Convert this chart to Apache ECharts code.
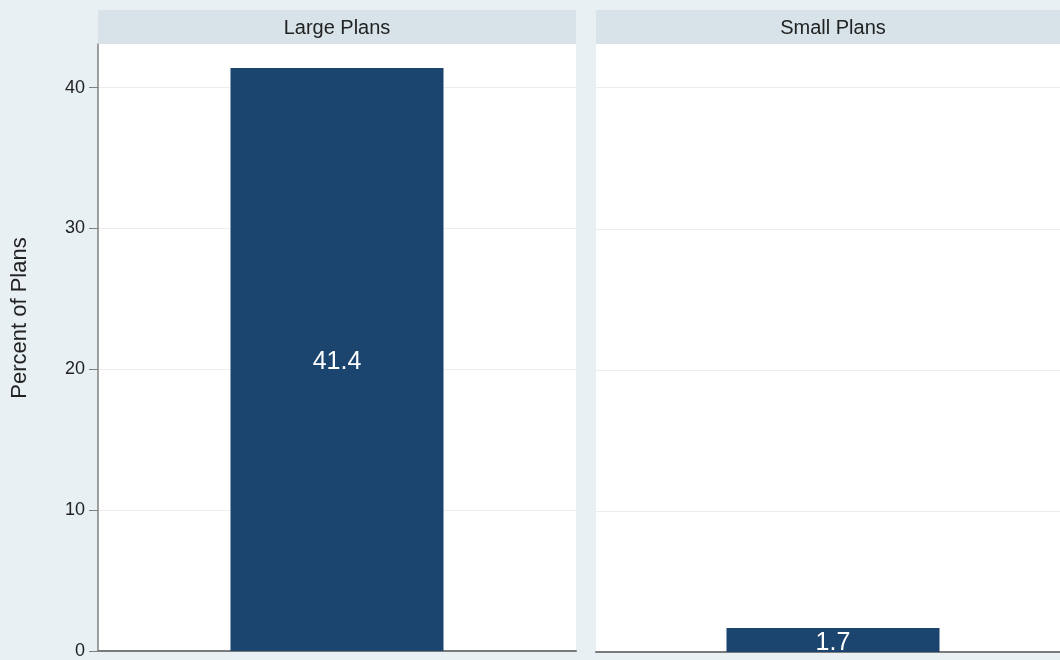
<!DOCTYPE html>
<html><head><meta charset="utf-8">
<script src="https://cdn.jsdelivr.net/npm/echarts@6/dist/echarts.min.js"></script>
<style>html,body{margin:0;padding:0;background:#e9f0f3;overflow:hidden;}#c{width:1072px;height:660px;}</style>
</head><body><div id="c"></div>
<script>
const panels = ['Large Plans', 'Small Plans'];
const values = [41.4, 1.7];
const yTicks = [0, 10, 20, 30, 40];
const yTitle = 'Percent of Plans';

const chart = echarts.init(document.getElementById('c'), null, {renderer: 'canvas'});
const font = '"Liberation Sans", Arial, sans-serif';
const grids = [
  {left: 98, top: 44, width: 478, height: 608},
  {left: 596, top: 44, width: 474, height: 608}
];
const option = {
  backgroundColor: '#e9f0f3',
  animation: false,
  grid: grids.map(g => Object.assign({show: true, backgroundColor: '#ffffff', borderWidth: 0, containLabel: false}, g)),
  xAxis: panels.map((p, i) => ({
    type: 'category', gridIndex: i, data: [p],
    axisLine: {show: true, lineStyle: {color: '#7a7a7a', width: 2}},
    axisTick: {show: false}, axisLabel: {show: false}, splitLine: {show: false}
  })),
  yAxis: panels.map((p, i) => ({
    type: 'value', gridIndex: i, min: 0, max: 43.1, interval: 10,
    axisLine: {show: i === 0, lineStyle: {color: '#808080', width: 1.5}},
    axisTick: {show: i === 0, length: 9, lineStyle: {color: '#808080'}, customValues: yTicks},
    axisLabel: {show: i === 0, customValues: yTicks, color: '#222', fontSize: 18, fontFamily: font, margin: 13},
    splitLine: {show: true, lineStyle: {color: '#ededed', width: 1}}
  })),
  series: panels.map((p, i) => ({
    type: 'bar', xAxisIndex: i, yAxisIndex: i,
    data: [values[i]], barWidth: 213,
    itemStyle: {color: '#1b456f'},
    label: {show: true, position: 'inside', offset: [0, 3], color: '#ffffff', fontSize: 25, fontFamily: font,
            formatter: v => v.value.toFixed(1)}
  })),
  graphic: [
    ...grids.map((g, i) => ({
      type: 'rect', shape: {x: g.left, y: 10, width: g.width, height: 34},
      style: {fill: '#d7e3e9'}, z: 10
    })),
    ...grids.map((g, i) => ({
      type: 'text', x: g.left + g.width / 2, y: 28, z: 11,
      style: {text: panels[i], font: '20px ' + font, fill: '#222', align: 'center', verticalAlign: 'middle'}
    })),
    {type: 'text', x: 20, y: 318, rotation: Math.PI / 2, z: 11,
     style: {text: yTitle, font: '22px ' + font, fill: '#222', align: 'center', verticalAlign: 'middle'}}
  ]
};
chart.setOption(option);
</script></body></html>
